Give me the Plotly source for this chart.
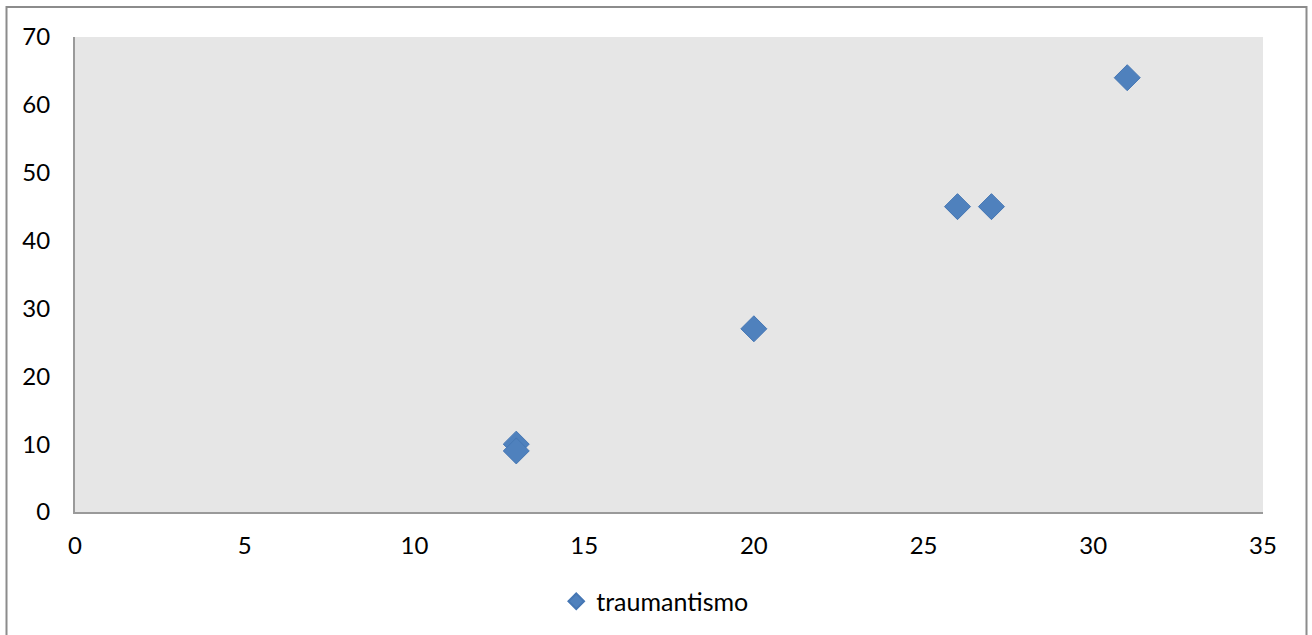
import plotly.graph_objects as go

# Data series
series_name = "traumantismo"
x_values = [13, 13, 20, 26, 27, 31]
y_values = [10, 9, 27, 45, 45, 64]

x_ticks = [0, 5, 10, 15, 20, 25, 30, 35]
y_ticks = [0, 10, 20, 30, 40, 50, 60, 70]

W, H = 1312, 635
L, R, T, B = 75, 49, 37, 123
plot_w = W - L - R
plot_h = H - T - B

font_family = "Lato, 'Open Sans', sans-serif"
marker_color = "#4F81BD"
axis_color = "#9A9A9A"
frame_color = "#8C8C8C"

fig = go.Figure()
fig.add_trace(go.Scatter(
    x=x_values, y=y_values, mode="markers", name=series_name,
    marker=dict(symbol="diamond", size=20, color=marker_color,
                line=dict(color="#4677B4", width=1)),
))

fig.update_layout(
    width=W, height=H,
    margin=dict(l=L, r=R, t=T, b=B, autoexpand=False),
    paper_bgcolor="white",
    plot_bgcolor="#E6E6E6",
    font=dict(family=font_family, size=24, color="black"),
    showlegend=True,
    legend=dict(orientation="h", x=0.488, xanchor="center", y=-0.14, yanchor="top",
                font=dict(size=25), itemsizing="constant"),
    xaxis=dict(range=[0, 35], tickvals=x_ticks, showgrid=False, zeroline=False,
               showline=True, linecolor=axis_color, linewidth=2,
               ticks="", ticklabelstandoff=11, automargin=False),
    yaxis=dict(range=[0, 70], tickvals=y_ticks, showgrid=False, zeroline=False,
               showline=True, linecolor=axis_color, linewidth=2,
               ticks="", ticklabelstandoff=18, automargin=False),
)

# Outer chart frame (open at the bottom edge of the page)
x0 = (6.5 - L) / plot_w
x1 = (1306.5 - L) / plot_w
y_top = (H - B - 7) / plot_h
y_bot = (H - B - 640) / plot_h
fig.add_shape(type="path", xref="paper", yref="paper",
              path=f"M {x0} {y_bot} L {x0} {y_top} L {x1} {y_top} L {x1} {y_bot}",
              line=dict(color=frame_color, width=2))

fig.write_html("out.html")
